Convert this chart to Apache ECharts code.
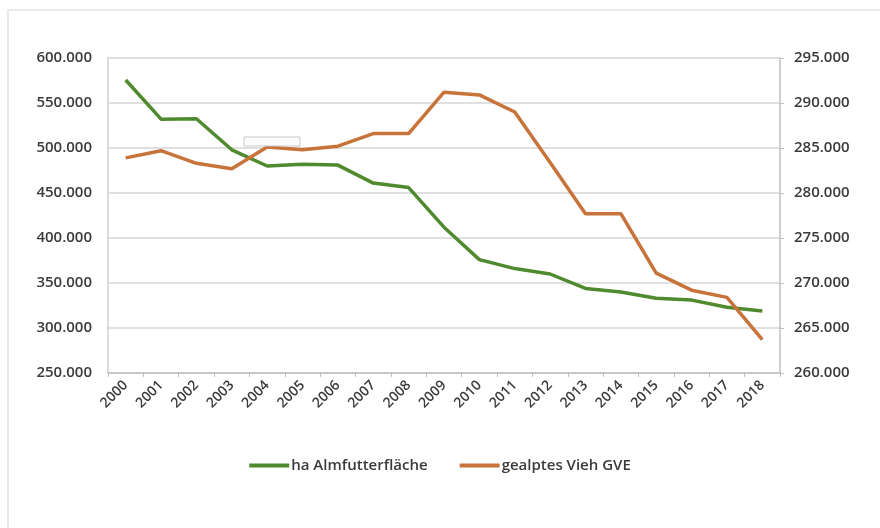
<!DOCTYPE html>
<html>
<head>
<meta charset="utf-8">
<script src="https://cdn.jsdelivr.net/npm/echarts@6/dist/echarts.min.js"></script>
<style>
  html, body { margin: 0; padding: 0; background: #fff; }
  #chart { width: 880px; height: 528px; }
</style>
</head>
<body>
<div id="chart"></div>
<script>
var years = ['2000','2001','2002','2003','2004','2005','2006','2007','2008','2009',
             '2010','2011','2012','2013','2014','2015','2016','2017','2018'];
// ha Almfutterfläche (linke Achse)
var almflaeche = [575600, 532000, 532500, 498000, 480000, 482000, 481000, 461000, 456000, 412000,
                  376000, 366000, 360000, 344000, 340000, 333000, 331000, 323000, 319000];
// gealptes Vieh GVE (rechte Achse)
var vieh = [283900, 284700, 283300, 282700, 285100, 284800, 285200, 286600, 286600, 291200,
            290900, 289000, 283400, 277700, 277700, 271100, 269200, 268400, 263700];

var fontFam = '"Open Sans", "Liberation Sans", sans-serif';
var textCol = '#3a3a3a';

function deNum(v) {
    return String(v).replace(/\B(?=(\d{3})+(?!\d))/g, '.');
}

var option = {
    backgroundColor: '#fff',
    animation: false,
    graphic: [
        {
            type: 'rect',
            shape: { x: 8, y: 10, width: 900, height: 560 },
            style: { fill: 'none', stroke: '#e2e2e2', lineWidth: 1.5 },
            z: -1
        },
        {
            type: 'rect',
            shape: { x: 244, y: 137, width: 56, height: 9 },
            style: { fill: '#fbfbfb', stroke: '#c8c8c8', lineWidth: 1 },
            z: 10
        }
    ],
    grid: { left: 108, right: 100, top: 58, bottom: 155 },
    legend: {
        bottom: 50,
        left: 'center',
        itemWidth: 40,
        itemHeight: 4,
        itemGap: 32,
        icon: 'rect',
        textStyle: { fontFamily: fontFam, fontSize: 15, fontWeight: 600, color: textCol, padding: [0, 0, 0, -3] },
        data: ['ha Almfutterfläche', 'gealptes Vieh GVE']
    },
    xAxis: {
        type: 'category',
        data: years,
        boundaryGap: true,
        axisLine: { lineStyle: { color: '#bfbfbf', width: 1.5 } },
        axisTick: { show: true, length: 4, lineStyle: { color: '#bfbfbf' } },
        axisLabel: {
            rotate: 45, interval: 0, margin: 10,
            fontFamily: fontFam, fontSize: 14, fontWeight: 600, color: textCol
        }
    },
    yAxis: [
        {
            type: 'value', min: 250000, max: 600000, interval: 50000,
            axisLine: { show: true, lineStyle: { color: '#d0d0d0', width: 1.5 } },
            axisTick: { show: false },
            splitLine: { lineStyle: { color: '#d6d6d6', width: 1.5 } },
            axisLabel: {
                margin: 16, fontFamily: fontFam, fontSize: 15, fontWeight: 600, color: textCol,
                formatter: deNum
            }
        },
        {
            type: 'value', min: 260000, max: 295000, interval: 5000,
            position: 'right',
            axisLine: { show: true, lineStyle: { color: '#bfbfbf', width: 1.5 } },
            axisTick: { show: true, length: 4, lineStyle: { color: '#bfbfbf' } },
            splitLine: { show: false },
            axisLabel: {
                margin: 14, fontFamily: fontFam, fontSize: 15, fontWeight: 600, color: textCol,
                formatter: deNum
            }
        }
    ],
    series: [
        {
            name: 'ha Almfutterfläche',
            type: 'line',
            yAxisIndex: 0,
            data: almflaeche,
            showSymbol: false,
            itemStyle: { color: '#4f8a2e' },
            lineStyle: { color: '#4f8a2e', width: 3.5 }
        },
        {
            name: 'gealptes Vieh GVE',
            type: 'line',
            yAxisIndex: 1,
            data: vieh,
            showSymbol: false,
            itemStyle: { color: '#c8733a' },
            lineStyle: { color: '#c8733a', width: 3.5 }
        }
    ]
};

var chart = echarts.init(document.getElementById('chart'));
chart.setOption(option);
</script>
</body>
</html>
